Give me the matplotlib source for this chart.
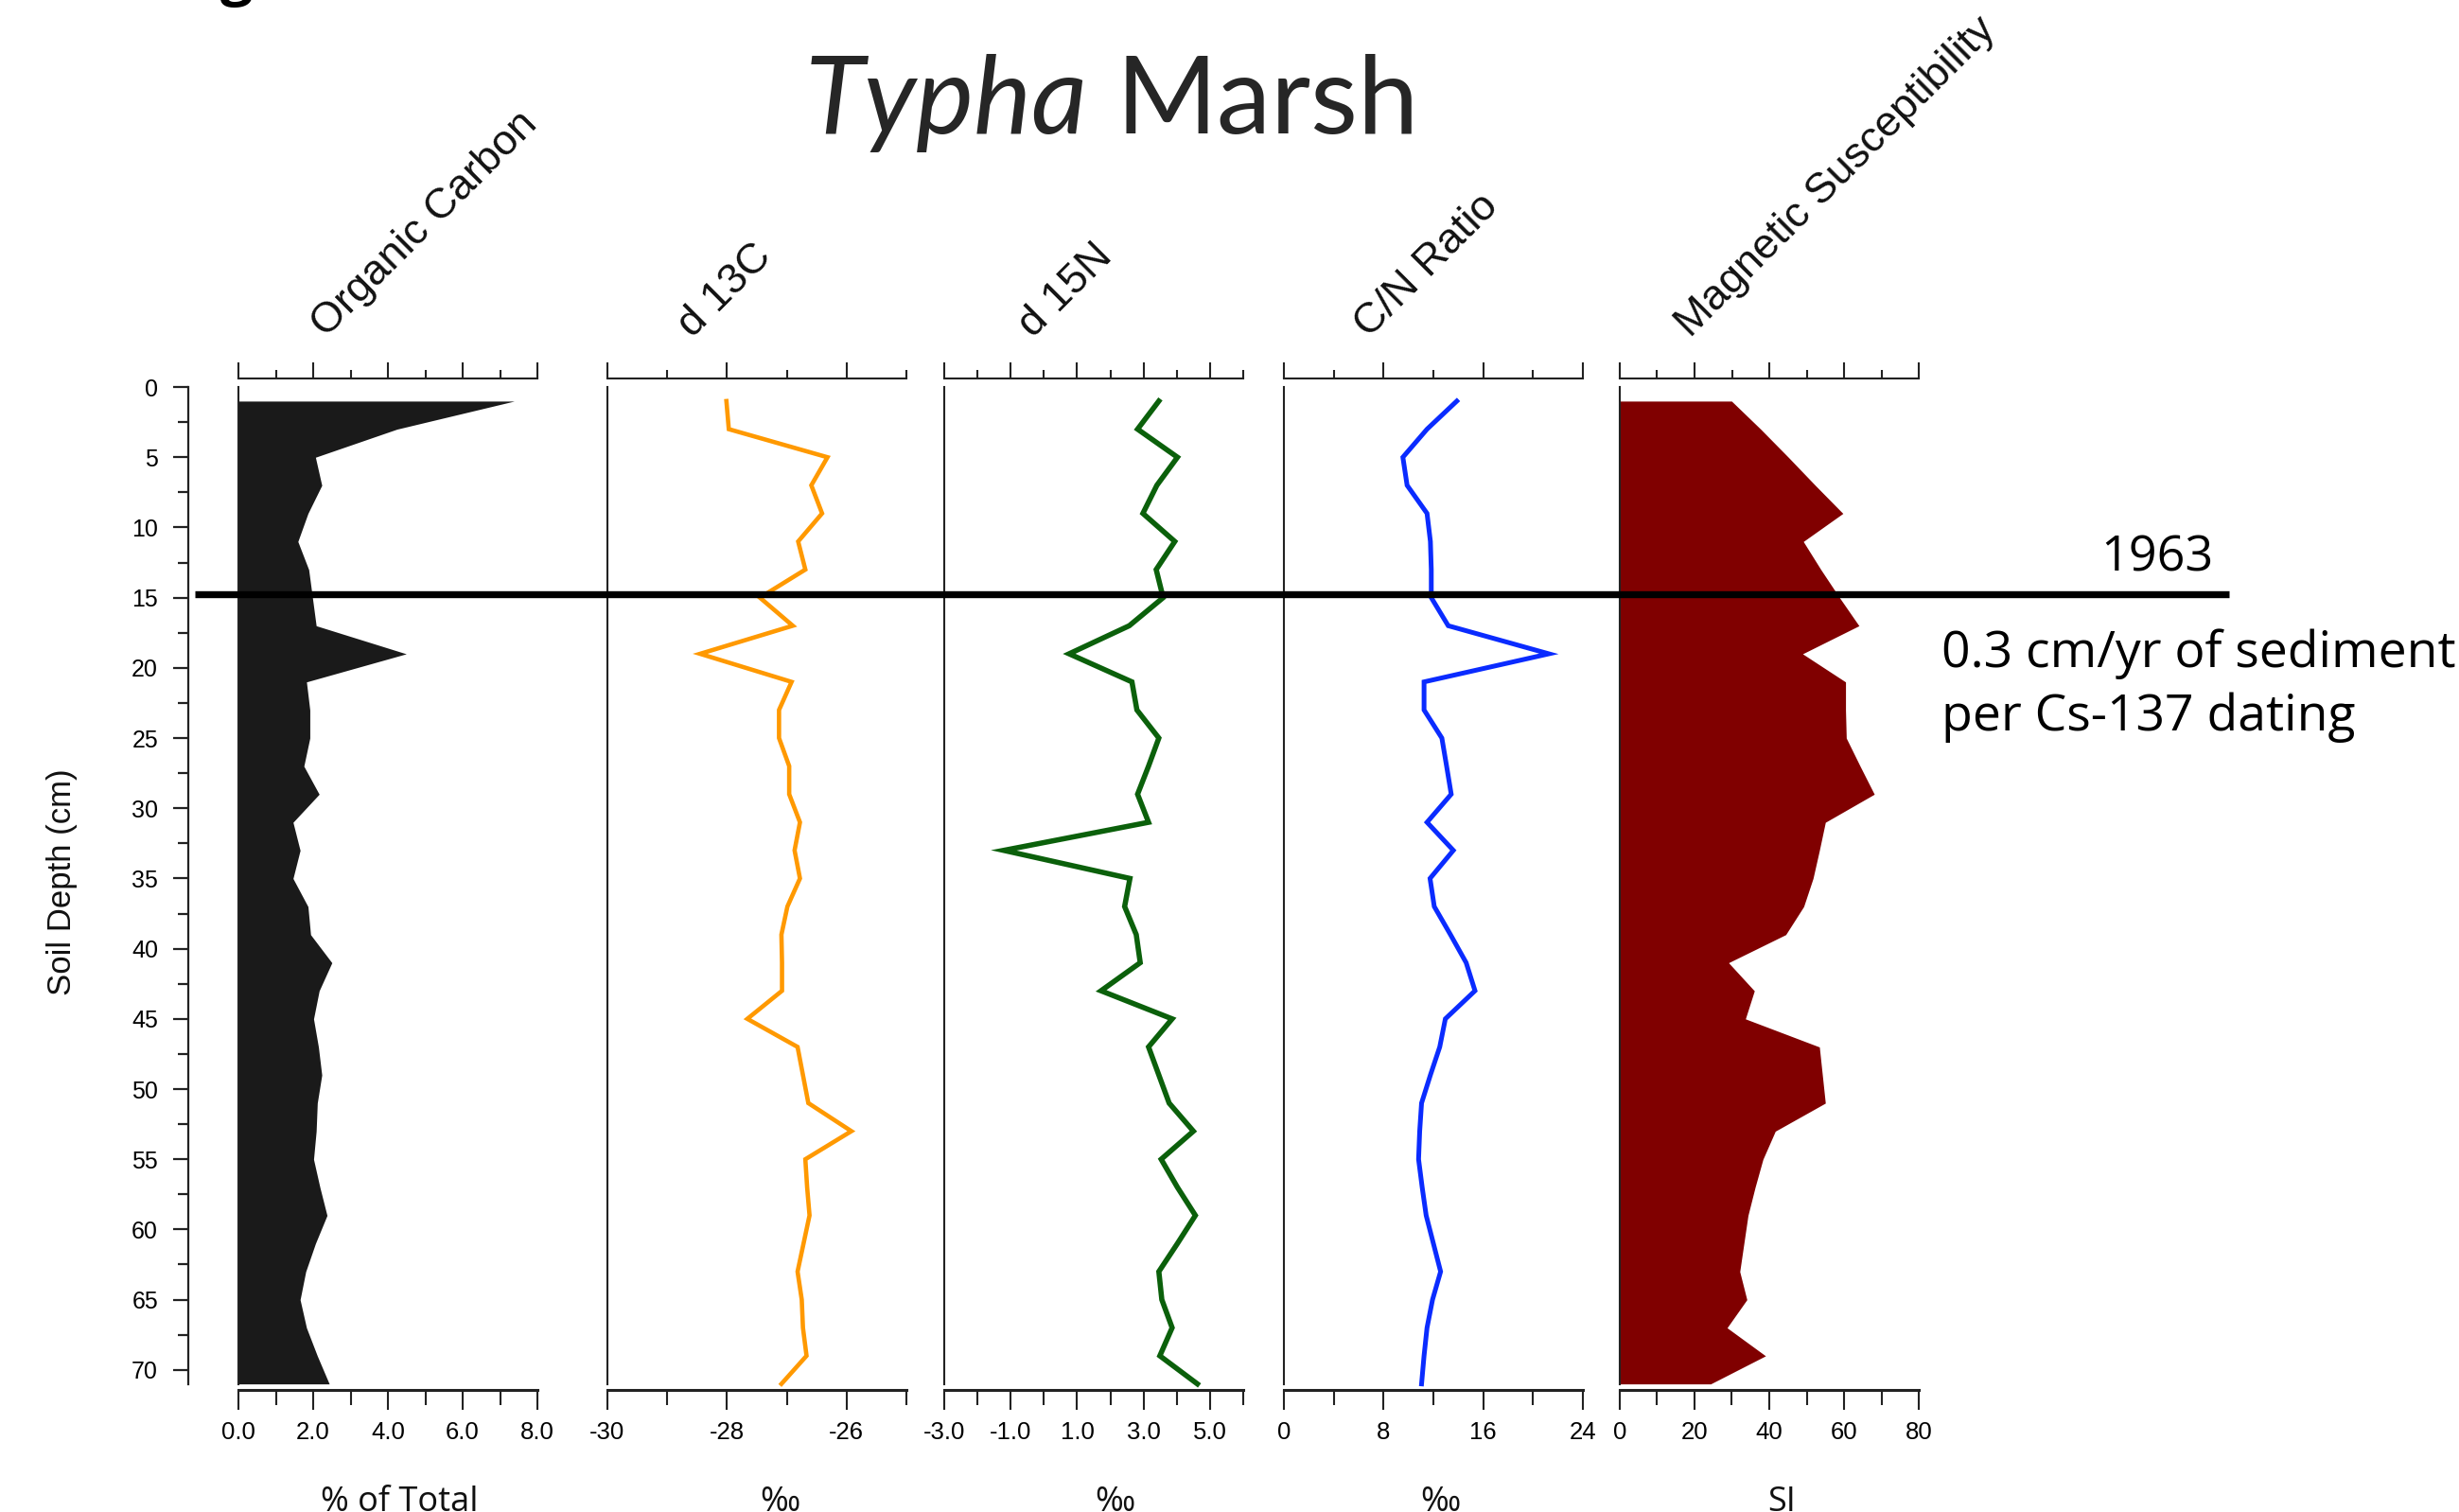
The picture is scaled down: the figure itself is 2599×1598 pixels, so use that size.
import matplotlib
matplotlib.use("Agg")
import matplotlib.pyplot as plt
from matplotlib.ticker import FixedLocator, NullFormatter
from matplotlib.lines import Line2D
import matplotlib.transforms as mtransforms

# ---------------- data ----------------
depth = [1, 3, 5, 7, 9, 11, 13, 15, 17, 19, 21, 23, 25, 27, 29, 31, 33, 35,
         37, 39, 41, 43, 45, 47, 49, 51, 53, 55, 57, 59, 61, 63, 65, 67, 69, 71]

organic_carbon = [7.38, 4.24, 2.06, 2.23, 1.86, 1.59, 1.88, 1.98, 2.08, 4.49, 1.82, 1.91,
                  1.91, 1.75, 2.16, 1.46, 1.65, 1.46, 1.86, 1.93, 2.50, 2.16, 2.01, 2.14,
                  2.23, 2.11, 2.08, 2.01, 2.18, 2.37, 2.06, 1.80, 1.65, 1.82, 2.11, 2.43]

d13c = [-28.01, -27.97, -26.32, -26.59, -26.41, -26.81, -26.69, -27.45, -26.90, -28.45,
        -26.92, -27.13, -27.13, -26.96, -26.96, -26.78, -26.87, -26.78, -26.99, -27.09,
        -27.08, -27.08, -27.66, -26.82, -26.73, -26.64, -25.92, -26.69, -26.66, -26.62,
        -26.72, -26.82, -26.75, -26.73, -26.67, -27.09]

d15n = [3.46, 2.82, 4.02, 3.40, 2.98, 3.94, 3.38, 3.59, 2.57, 0.76, 2.65, 2.80,
        3.46, 3.15, 2.82, 3.15, -1.21, 2.59, 2.43, 2.78, 2.90, 1.72, 3.86, 3.15,
        3.46, 3.77, 4.50, 3.53, 4.02, 4.56, 4.02, 3.46, 3.55, 3.86, 3.49, 4.62]

cn_ratio = [13.88, 11.49, 9.55, 9.89, 11.49, 11.76, 11.83, 11.83, 13.19, 21.27, 11.25, 11.25,
            12.68, 13.06, 13.43, 11.49, 13.60, 11.73, 12.07, 13.37, 14.63, 15.34, 12.96, 12.51,
            11.76, 11.05, 10.90, 10.81, 11.10, 11.42, 12.00, 12.58, 11.93, 11.49, 11.25, 11.05]

mag_sus = [29.9, 37.7, 45.1, 52.3, 59.7, 49.1, 53.8, 58.8, 64.0, 48.9, 60.4, 60.4,
           60.6, 64.3, 68.1, 55.0, 53.4, 51.7, 49.2, 44.4, 29.1, 36.0, 33.6, 53.4,
           54.2, 55.0, 41.6, 38.3, 36.2, 34.3, 33.2, 32.1, 34.0, 28.7, 39.0, 24.3]

panel_titles = ["Organic Carbon", "d 13C", "d 15N", "C/N Ratio", "Magnetic Susceptibility"]
unit_labels = ["% of Total", "\u2030", "\u2030", "\u2030", "SI"]

x_limits = [(0, 8), (-30, -25), (-3, 6), (0, 24), (0, 80)]
x_major = [[0, 2, 4, 6, 8], [-30, -28, -26], [-3, -1, 1, 3, 5], [0, 8, 16, 24], [0, 20, 40, 60, 80]]
x_major_labels = [["0.0", "2.0", "4.0", "6.0", "8.0"], ["-30", "-28", "-26"],
                  ["-3.0", "-1.0", "1.0", "3.0", "5.0"], ["0", "8", "16", "24"],
                  ["0", "20", "40", "60", "80"]]
x_minor = [[1, 3, 5, 7], [-29, -27, -25], [-2, 0, 2, 4, 6], [4, 12, 20], [10, 30, 50, 70]]

y_major = [0, 5, 10, 15, 20, 25, 30, 35, 40, 45, 50, 55, 60, 65, 70]
y_minor = [2.5, 7.5, 12.5, 17.5, 22.5, 27.5, 32.5, 37.5, 42.5, 47.5, 52.5, 57.5, 62.5, 67.5]

date_depth = 14.76
date_label = "1963"
rate_lines = ["0.3 cm/yr of sediment", "per Cs-137 dating"]

# ---------------- layout ----------------
W, H = 2599, 1598
plt.rcParams["font.family"] = ["Liberation Sans", "DejaVu Sans"]
fig = plt.figure(figsize=(W / 100, H / 100), dpi=100)
fig.patch.set_facecolor("white")


def fx(px):
    return px / W


def fy(py):
    return 1 - py / H


AX_TOP, AX_BOT = 400, 1469
ax_bottom = fy(AX_BOT)
ax_height = (AX_BOT - AX_TOP) / H
YLIM = (71.43, -0.61)
SPINE_C = "#222222"

panel_left = [252, 642, 998, 1357, 1712]
panel_w = 316
title_x = [345, 732, 1092, 1447, 1787]
unit_x = [422, 824, 1178, 1522, 1883]

series = [organic_carbon, d13c, d15n, cn_ratio, mag_sus]
styles = [("fill", "#1a1a1a", 0), ("line", "#FF9900", 3.3), ("line", "#0B600B", 4.0),
          ("line", "#0A2BFF", 3.6), ("fill", "#800000", 0)]

axes = []
for i in range(5):
    ax = fig.add_axes([fx(panel_left[i]), ax_bottom, fx(panel_w), ax_height])
    ax.patch.set_alpha(0)
    ax.set_ylim(*YLIM)
    ax.set_xlim(*x_limits[i])
    kind, col, lw = styles[i]
    if kind == "fill":
        ax.fill_betweenx(depth, 0, series[i], color=col, lw=0)
    else:
        ax.plot(series[i], depth, color=col, lw=lw, solid_joinstyle="miter")
    for s in ("right", "top"):
        ax.spines[s].set_visible(False)
    ax.spines["left"].set_bounds(0, 71)
    ax.spines["left"].set_linewidth(1.5)
    ax.spines["left"].set_color(SPINE_C)
    ax.spines["bottom"].set_linewidth(2.2)
    ax.spines["bottom"].set_color(SPINE_C)
    ax.set_yticks([])
    ax.xaxis.set_major_locator(FixedLocator(x_major[i]))
    ax.set_xticklabels(x_major_labels[i])
    ax.xaxis.set_minor_locator(FixedLocator(x_minor[i]))
    ax.tick_params(axis="x", which="major", direction="out", length=15, width=1.5,
                   pad=9, labelsize=18.5, color=SPINE_C, top=False)
    ax.tick_params(axis="x", which="minor", direction="out", length=11.5, width=1.5,
                   color=SPINE_C, top=False)

    sec = ax.secondary_xaxis("top")
    sec.xaxis.set_major_locator(FixedLocator(x_major[i]))
    sec.xaxis.set_minor_locator(FixedLocator(x_minor[i]))
    sec.xaxis.set_major_formatter(NullFormatter())
    sec.tick_params(which="major", direction="out", length=12, width=1.5, color=SPINE_C)
    sec.tick_params(which="minor", direction="out", length=6.5, width=1.5, color=SPINE_C)
    sec.spines["top"].set_linewidth(1.5)
    sec.spines["top"].set_color(SPINE_C)
    axes.append(ax)

    fig.text(fx(title_x[i]), fy(358), panel_titles[i], rotation=45, rotation_mode="anchor",
             ha="left", va="baseline", fontsize=32.5, color="#111111")
    fig.text(fx(unit_x[i]), fy(1597), unit_labels[i], ha="center", va="baseline",
             fontsize=26, family=["Open Sans", "DejaVu Sans"], color="#111111")

# main depth axis
ax0 = fig.add_axes([fx(199), ax_bottom, 0.0004, ax_height])
ax0.patch.set_alpha(0)
ax0.set_ylim(*YLIM)
for s in ("right", "top", "bottom"):
    ax0.spines[s].set_visible(False)
ax0.spines["left"].set_bounds(0, 71)
ax0.spines["left"].set_linewidth(1.6)
ax0.spines["left"].set_color(SPINE_C)
ax0.set_xticks([])
ax0.yaxis.set_major_locator(FixedLocator(y_major))
ax0.yaxis.set_minor_locator(FixedLocator(y_minor))
ax0.set_yticklabels([str(v) for v in y_major])
ax0.tick_params(axis="y", which="major", direction="out", length=11.5, width=1.6,
                pad=11.5, labelsize=18, color=SPINE_C)
ax0.tick_params(axis="y", which="minor", direction="out", length=8, width=1.6, color=SPINE_C)
fig.text(fx(65), fy(932), "Soil Depth (cm)", rotation=90, ha="center", va="center",
         fontsize=25, color="#111111")

# 1963 marker line
trans = mtransforms.blended_transform_factory(fig.transFigure, ax0.transData)
fig.add_artist(Line2D([fx(206), fx(2356)], [date_depth, date_depth], transform=trans,
                      color="black", lw=5.3, solid_capstyle="butt", zorder=5))

ann_font = ["Open Sans", "DejaVu Sans"]
fig.text(fx(2340), fy(603), date_label, ha="right", va="baseline", fontsize=37.5,
         family=ann_font, color="black")
fig.text(fx(2052), fy(705), rate_lines[0], ha="left", va="baseline", fontsize=38.5,
         family=ann_font, color="black")
fig.text(fx(2052), fy(772), rate_lines[1], ha="left", va="baseline", fontsize=38.5,
         family=ann_font, color="black")

# title
title_font = ["Lato", "DejaVu Sans"]
fig.text(fx(1150), fy(141), "Typha", ha="right", va="baseline", fontsize=83,
         style="italic", family=title_font, color="#262626")
fig.text(fx(1180), fy(141), "Marsh", ha="left", va="baseline", fontsize=83,
         family=title_font, color="#262626")

# fragment of text cut off at the top edge
fig.text(fx(233), fy(-7), "g", ha="left", va="baseline", fontsize=44, weight="bold",
         family=ann_font, color="black")

fig.savefig("out.png", dpi=100)
